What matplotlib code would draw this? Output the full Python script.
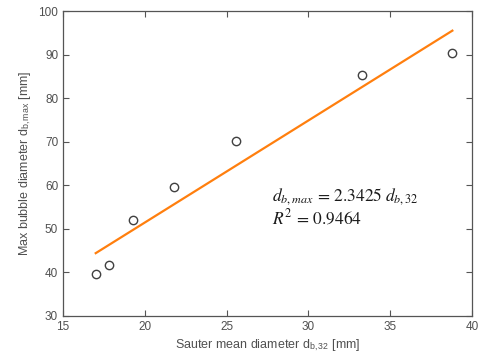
import numpy as np
import matplotlib.pyplot as plt

plt.rcParams['font.family'] = ['Liberation Sans', 'DejaVu Sans']
plt.rcParams['mathtext.fontset'] = 'stix'

# measured bubble sizes [mm]
d32 = [17.0, 17.8, 19.3, 21.8, 25.6, 33.3, 38.8]
dmax = [39.6, 41.7, 52.0, 59.6, 70.2, 85.3, 90.3]

# linear fit
slope = 2.3425
intercept = 4.6
r2 = 0.9464

fig = plt.figure(figsize=(4.81, 3.57), dpi=100)
ax = fig.add_axes([63 / 481, 1 - 316 / 357, 409 / 481, 305 / 357])

xfit = np.array([min(d32), max(d32)])
ax.plot(xfit, slope * xfit + intercept, color='#ff7f0e', lw=1.6, zorder=2)
ax.plot(d32, dmax, 'o', mfc='none', mec='#404040', ms=6, mew=1.0, zorder=3)

ax.set_xlim(15, 40)
ax.set_ylim(30, 100)
ax.set_xticks(range(15, 41, 5))
ax.set_yticks(range(30, 101, 10))

for s in ax.spines.values():
    s.set_color('#555555')
    s.set_linewidth(0.9)
ax.tick_params(direction='in', top=True, right=True, length=4, width=0.8,
               colors='#555555', labelsize=8.5, labelcolor='#505050')

ax.set_xlabel('Sauter mean diameter d$_{\\mathregular{b,32}}$ [mm]',
              fontsize=9, color='#505050', labelpad=3)
ax.set_ylabel('Max bubble diameter d$_{\\mathregular{b,max}}$ [mm]',
              fontsize=9, color='#505050', labelpad=4)

ax.text(27.8, 57.4, r'$d_{b,max}\,=\,2.3425\;d_{b,32}$', fontsize=12.5,
        va='center', ha='left', color='#1a1a1a')
ax.text(27.8, 52.6, r'$R^2\,=\,%.4f$' % r2, fontsize=12.5,
        va='center', ha='left', color='#1a1a1a')

fig.savefig('out.png', dpi=100)
